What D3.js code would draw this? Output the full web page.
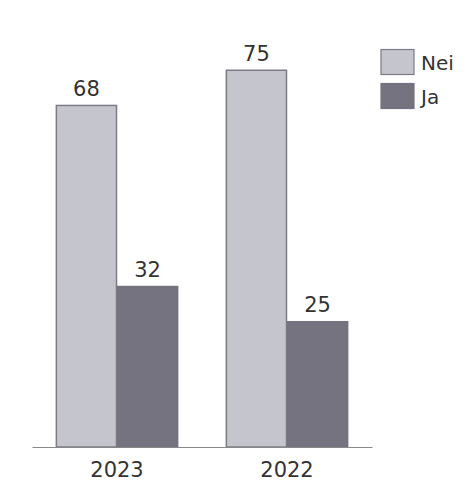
<!DOCTYPE html>
<html><head><meta charset="utf-8">
<script src="https://cdn.jsdelivr.net/npm/d3@7"></script>
<style>body{margin:0;background:#fff}</style>
</head><body>
<svg id="c" width="469" height="499"></svg>
<script>
const categories = ["2023", "2022"];
const seriesNames = ["Nei", "Ja"];
const neiValues = [68, 75];
const jaValues = [32, 25];
const colors = {Nei: "#c5c5cd", Ja: "#74737f"};
const strokes = {Nei: "#7c7b86", Ja: "#74737f"};

const svg = d3.select("#c");
const font = "DejaVu Sans, sans-serif";
const x0 = d3.scaleBand().domain(categories).range([32, 372]).padding(0);
const x1 = d3.scaleBand().domain(seriesNames).range([0, x0.bandwidth()]).paddingInner(0).paddingOuter(0.39);
const y = d3.scaleLinear().domain([0, 80]).range([447, 44.6]);

const data = categories.map((c, i) => ({cat: c, vals: [{s: "Nei", v: neiValues[i]}, {s: "Ja", v: jaValues[i]}]}));

const g = svg.selectAll("g.grp").data(data).join("g").attr("class", "grp")
  .attr("transform", d => `translate(${x0(d.cat)},0)`);

g.selectAll("rect").data(d => d.vals).join("rect")
  .attr("x", d => x1(d.s) + 0.5)
  .attr("y", d => y(d.v) + 0.5)
  .attr("width", x1.bandwidth() - 1)
  .attr("height", d => y(0) - y(d.v) - 0.5)
  .attr("fill", d => colors[d.s])
  .attr("stroke", d => strokes[d.s])
  .attr("stroke-width", 1.5);

g.selectAll("text.val").data(d => d.vals).join("text").attr("class", "val")
  .attr("x", d => x1(d.s) + x1.bandwidth() / 2)
  .attr("y", d => y(d.v) - 9)
  .attr("text-anchor", "middle")
  .attr("font-family", font).attr("font-size", 21).attr("fill", "#333")
  .text(d => d.v);

// axis
const xAxis = d3.axisBottom(x0).tickSize(0).tickPadding(15);
const ax = svg.append("g").attr("transform", `translate(0,${y(0)})`).call(xAxis);
ax.select(".domain").attr("stroke", "#888").attr("stroke-width", 1.2);
ax.selectAll("text").attr("font-family", font).attr("font-size", 21).attr("fill", "#333");

// legend
const lg = svg.append("g").selectAll("g").data(seriesNames).join("g")
  .attr("transform", (d, i) => `translate(381,${49.5 + i * 34})`);
lg.append("rect").attr("width", 33).attr("height", 25)
  .attr("fill", d => colors[d]).attr("stroke", d => strokes[d]).attr("stroke-width", 1.2);
lg.append("text").attr("x", 40).attr("y", 20)
  .attr("font-family", font).attr("font-size", 20).attr("fill", "#333").text(d => d);
</script>
</body></html>
